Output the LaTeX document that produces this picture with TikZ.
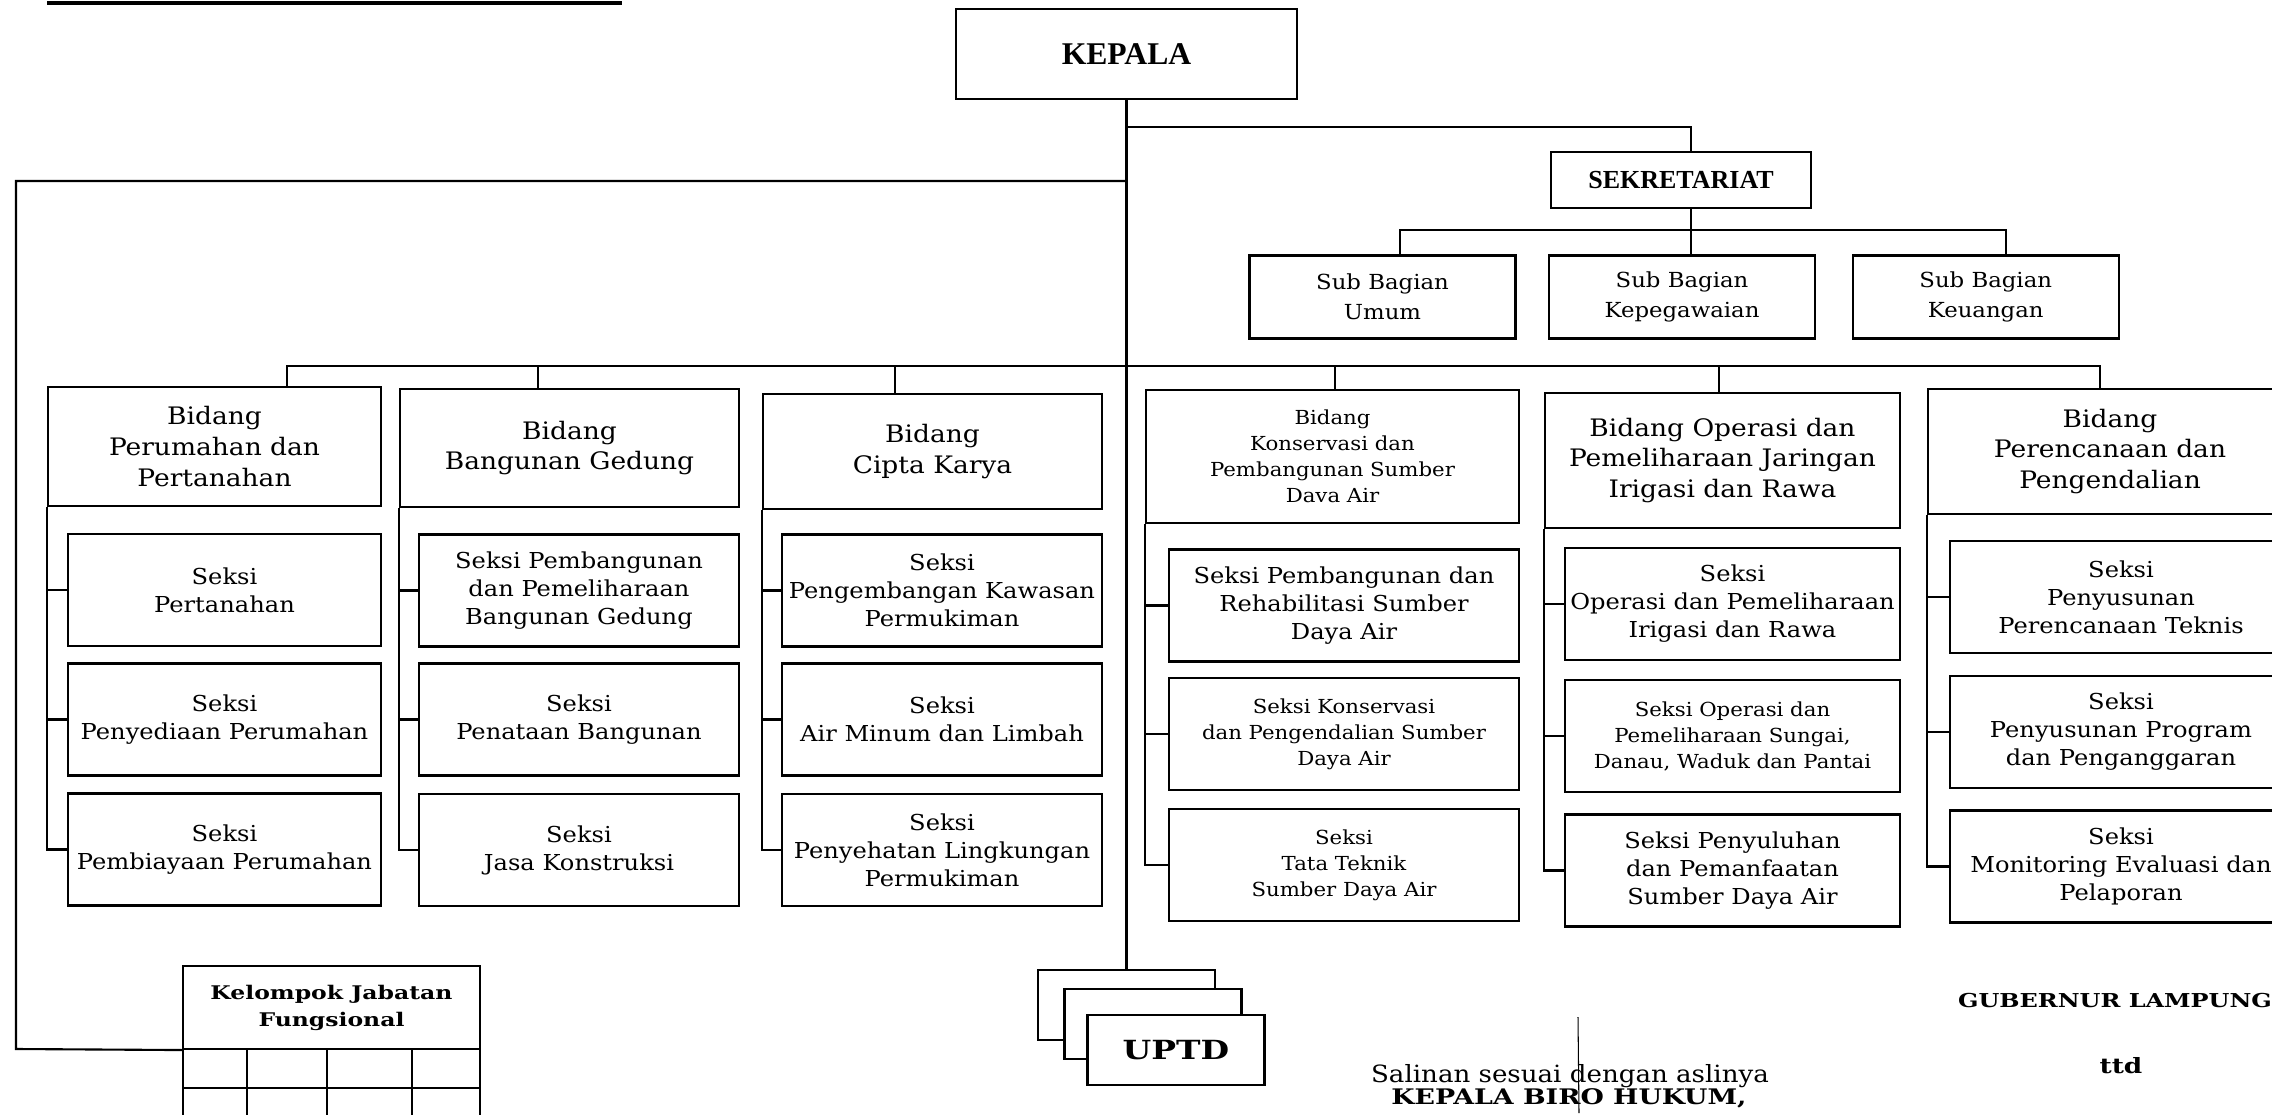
\documentclass[tikz,border=0pt]{standalone}
\usepackage{fontspec}
\setmainfont{DejaVu Serif}[FakeStretch=1.1]
\newfontfamily\timesbold{Liberation Serif}[UprightFont=* Bold]
\newfontfamily\heavyfont{DejaVu Serif}[UprightFont=* Bold, FakeStretch=1.25]
\usetikzlibrary{positioning}

\newcommand{\bidfont}{\fontsize{13.7}{17.6}\selectfont}
\newcommand{\seksifont}{\fontsize{12.5}{15.9}\selectfont}
\newcommand{\kecilfont}{\fontsize{11}{14.8}\selectfont}
\newcommand{\subfont}{\fontsize{11.8}{17}\selectfont}

\begin{document}
\begin{tikzpicture}[
        x=0.02cm, y=-0.02cm, line width=1.2pt,
        box/.style={rectangle, draw, inner sep=0pt, align=center},
        bidang/.style n args={2}{box, minimum width=#1, minimum height=#2, font=\bidfont},
        seksi/.style={box, minimum width=#1, minimum height=2.24cm, font=\seksifont},
        subbag/.style={box, minimum width=5.32cm, minimum height=1.66cm, font=\subfont},
        uptd/.style={box, fill=white, minimum width=3.54cm, minimum height=1.4cm}
    ]
        \useasboundingbox (0,0) rectangle (2272,1115);
        \clip (0,0) rectangle (2272,1115);

        \draw[line width=2pt] (47,3) -- (622,3);

        % pimpinan
        \node[box, minimum width=6.82cm, minimum height=1.8cm, font=\timesbold\fontsize{18}{22}\selectfont] (kepala) at (1126.5,54) {KEPALA};
        \node[box, minimum width=5.2cm, minimum height=1.12cm, font=\timesbold\fontsize{14.8}{18}\selectfont] (sekr) at (1681,180) {SEKRETARIAT};

        \node[subbag] (umum) at (1382.5,297) {Sub Bagian\\Umum};
        \node[subbag] (kepeg) at (1682,297) {Sub Bagian\\Kepegawaian};
        \node[subbag] (keu) at (1985.7,297) {Sub Bagian\\Keuangan};

        % bidang
        \node[bidang={6.66cm}{2.38cm}] (b1) at (214.5,446.5) {Bidang\\Perumahan dan\\Pertanahan};
        \node[bidang={6.78cm}{2.36cm}] (b2) at (569.5,448) {Bidang\\Bangunan Gedung};
        \node[bidang={6.78cm}{2.30cm}] (b3) at (932.5,451.5) {Bidang\\Cipta Karya};
        \node[bidang={7.46cm}{2.66cm}, font=\kecilfont] (b4) at (1332.5,456.5) {Bidang\\Konservasi dan\\Pembangunan Sumber\\Dava Air};
        \node[bidang={7.10cm}{2.70cm}] (b5) at (1722.5,460.5) {Bidang Operasi dan\\Pemeliharaan Jaringan\\Irigasi dan Rawa};
        \node[bidang={7.28cm}{2.50cm}] (b6) at (2110,451.5) {Bidang\\Perencanaan dan\\Pengendalian};

        % seksi
        \node[seksi=6.26cm] (s1-1) at (224.5,590) {Seksi\\Pertanahan};
        \node[seksi=6.26cm] (s1-2) at (224.5,719.5) {Seksi\\Penyediaan Perumahan};
        \node[seksi=6.26cm] (s1-3) at (224.5,849.5) {Seksi\\Pembiayaan Perumahan};

        \node[seksi=6.4cm] (s2-1) at (579,590.5) {Seksi Pembangunan\\dan Pemeliharaan\\Bangunan Gedung};
        \node[seksi=6.4cm] (s2-2) at (579,719.5) {Seksi\\Penataan Bangunan};
        \node[seksi=6.4cm] (s2-3) at (579,850) {Seksi\\Jasa Konstruksi};

        \node[seksi=6.4cm] (s3-1) at (942,590.5) {Seksi\\Pengembangan Kawasan\\Permukiman};
        \node[seksi=6.4cm] (s3-2) at (942,719.5) {Seksi\\Air Minum dan Limbah};
        \node[seksi=6.4cm] (s3-3) at (942,850) {Seksi\\Penyehatan Lingkungan\\Permukiman};

        \node[seksi=7cm] (s4-1) at (1344,605.5) {Seksi Pembangunan dan\\Rehabilitasi Sumber\\Daya Air};
        \node[seksi=7cm, font=\kecilfont] (s4-2) at (1344,734) {Seksi Konservasi\\dan Pengendalian Sumber\\Daya Air};
        \node[seksi=7cm, font=\kecilfont] (s4-3) at (1344,865) {Seksi\\Tata Teknik\\Sumber Daya Air};

        \node[seksi=6.7cm] (s5-1) at (1732.5,604) {Seksi\\Operasi dan Pemeliharaan\\Irigasi dan Rawa};
        \node[seksi=6.7cm, font=\kecilfont] (s5-2) at (1732.5,736) {Seksi Operasi dan\\Pemeliharaan Sungai,\\Danau, Waduk dan Pantai};
        \node[seksi=6.7cm] (s5-3) at (1732.5,870.5) {Seksi Penyuluhan\\dan Pemanfaatan\\Sumber Daya Air};

        \node[seksi=6.84cm] (s6-1) at (2121,597) {Seksi\\Penyusunan\\Perencanaan Teknis};
        \node[seksi=6.84cm] (s6-2) at (2121,732) {Seksi\\Penyusunan Program\\dan Penganggaran};
        \node[seksi=6.84cm] (s6-3) at (2121,866.5) {Seksi\\Monitoring Evaluasi dan\\Pelaporan};

        % uptd dan fungsional
        \node[uptd] (uptd1) at (1126.5,1005) {};
        \node[uptd] (uptd2) at (1153,1024) {};
        \node[uptd, font=\heavyfont\fontsize{15}{18}\selectfont] (uptd3) at (1176,1050) {UPTD};

        \node[box, minimum width=5.94cm, minimum height=1.66cm, font=\heavyfont\fontsize{10.7}{15.4}\selectfont] (fung) at (331.5,1007.5) {Kelompok Jabatan\\Fungsional};
        \foreach \x in {183,247,327,412,480}
            \draw (\x,1049) -- (\x,1125);
        \draw (183,1088) -- (480,1088);

        % garis komando
        \draw (kepala.south) -- (uptd1.north);
        \coordinate (jsek) at (1126.5,127);
        \draw (jsek) -| (sekr.north -| 1691,0);
        \draw (sekr.south -| 1691,0) -- ++(0,21) coordinate (jsub);
        \draw (umum.north -| 1400,0) |- (jsub) -| (keu.north -| 2006,0);
        \draw (jsub) -- (kepeg.north -| 1691,0);

        \coordinate (jfung) at (1126.5,181);
        \draw (jfung) -- (16,181) -- (16,1049) -- (fung.south west);

        \coordinate (jbid) at (1126.5,366);
        \draw (b1.north -| 287,0) |- (jbid) -| (b6.north -| 2100,0);
        \foreach \n/\x in {b2/538, b3/895, b4/1335, b5/1719}
            \draw (\x,366) -- (\n.north -| \x,0);

        \foreach \i in {1,...,6} {
            \draw (b\i.south west) |- (s\i-3.west);
            \draw (s\i-1.west) -- (s\i-1.west -| b\i.south west);
            \draw (s\i-2.west) -- (s\i-2.west -| b\i.south west);
        }

        % pengesahan
        \node[anchor=base, font=\fontsize{13.5}{16}\selectfont] (salinan) at (1570,1082) {Salinan sesuai dengan aslinya};
        \node[anchor=base, font=\heavyfont\fontsize{12.2}{15}\selectfont] (biro) at (1569,1104) {KEPALA BIRO HUKUM,};
        \node[anchor=base, font=\heavyfont\fontsize{10.9}{15}\selectfont] (gub) at (2115,1007) {GUBERNUR LAMPUNG};
        \node[anchor=base, font=\heavyfont\fontsize{12}{15}\selectfont] (ttd) at (2121,1073) {ttd};
        \draw[line width=0.6pt] (1578,1017) -- (1579,1113);
    \end{tikzpicture}
\end{document}
